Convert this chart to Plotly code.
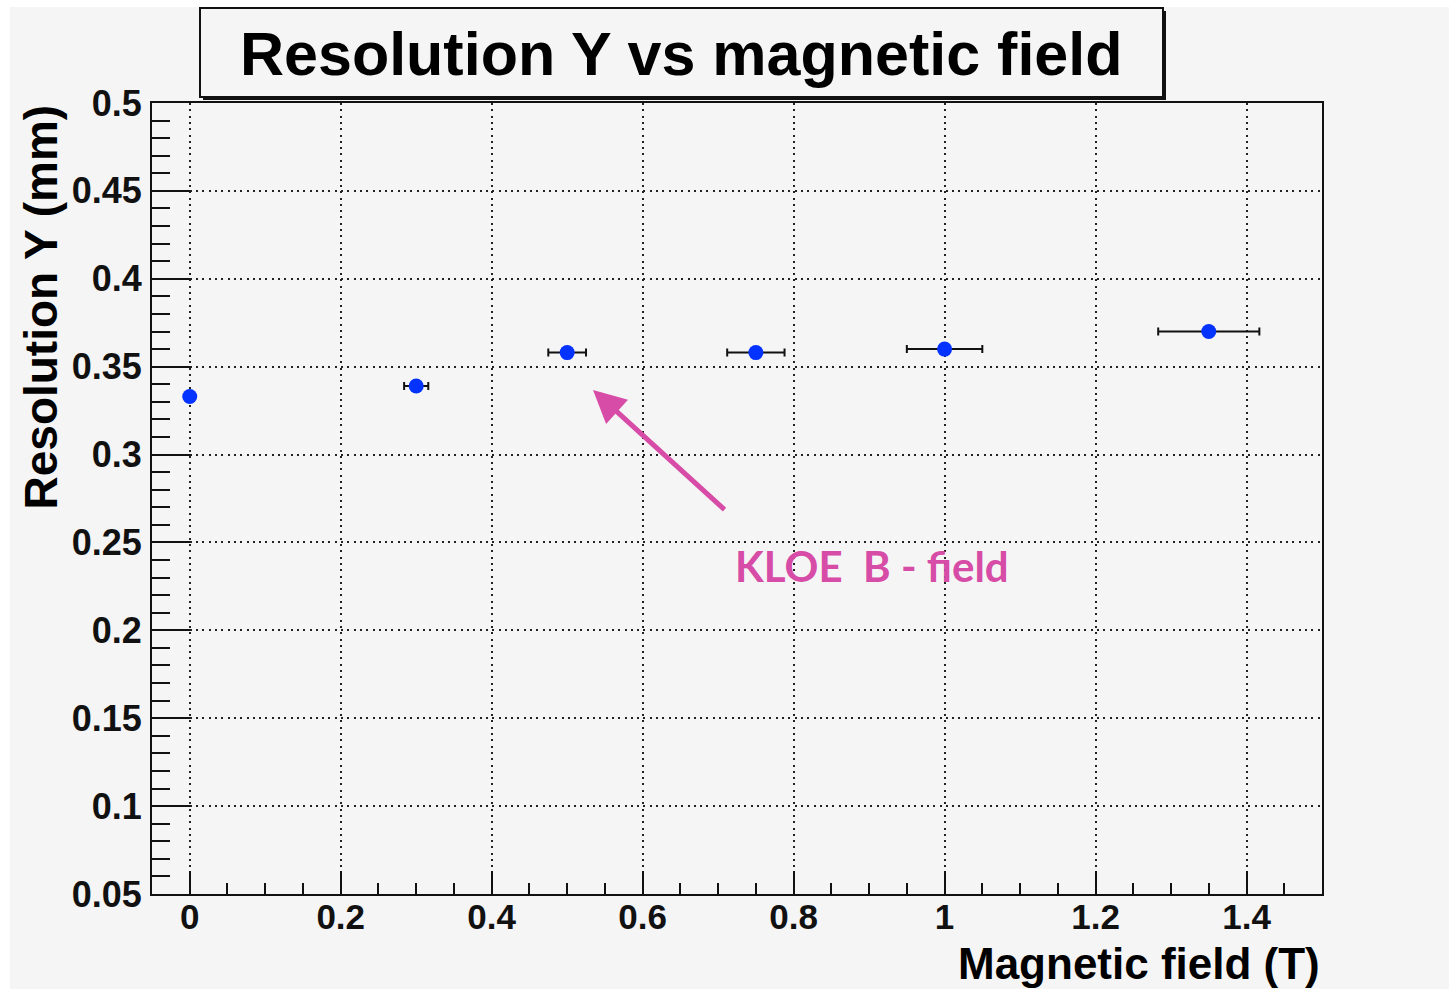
import plotly.graph_objects as go

# Data
field_T = [0.0, 0.3, 0.5, 0.75, 1.0, 1.35]
resolution_mm = [0.333, 0.339, 0.358, 0.358, 0.360, 0.370]
field_err = [0.0, 0.016, 0.025, 0.038, 0.050, 0.067]

x_ticks = [0, 0.2, 0.4, 0.6, 0.8, 1.0, 1.2, 1.4]
x_ticklabels = ["0", "0.2", "0.4", "0.6", "0.8", "1", "1.2", "1.4"]
y_ticks = [0.05, 0.1, 0.15, 0.2, 0.25, 0.3, 0.35, 0.4, 0.45, 0.5]
y_ticklabels = ["0.05", "0.1", "0.15", "0.2", "0.25", "0.3", "0.35", "0.4", "0.45", "0.5"]

W, H = 1449, 989
L, R, T, B = 152, 1322, 103, 894
PW, PH = R - L, B - T


def px(x):
    return (x - L) / PW


def py(y):
    return (B - y) / PH


BG = "#f5f5f5"
FONT = "Liberation Sans, Arial, Helvetica, sans-serif"

fig = go.Figure()
fig.add_trace(go.Scatter(
    x=field_T, y=resolution_mm, mode="markers",
    marker=dict(color="#0433ff", size=15, line=dict(width=0)),
    error_x=dict(type="data", array=field_err, visible=True,
                 color="#111111", thickness=2, width=4),
    showlegend=False,
))

axis_common = dict(
    showline=True, linecolor="#111111", linewidth=2, mirror=True,
    ticks="inside", tickcolor="#111111", tickwidth=2,
    showgrid=True, gridcolor="#222222", gridwidth=1.5, griddash="2px,4.3px",
    zeroline=False,
)

fig.update_xaxes(
    range=[-0.05, 1.5], tickvals=x_ticks, ticktext=x_ticklabels,
    ticklen=23, ticklabelstandoff=-9,
    tickfont=dict(family=FONT, size=35, color="#111111", weight="bold"),
    minor=dict(ticks="inside", ticklen=11, dtick=0.05, tick0=0,
               tickcolor="#111111", tickwidth=2, showgrid=False),
    **axis_common,
)
fig.update_yaxes(
    range=[0.05, 0.5], tickvals=y_ticks, ticktext=y_ticklabels,
    ticklen=38, ticklabelstandoff=1,
    tickfont=dict(family=FONT, size=36, color="#111111", weight="bold"),
    minor=dict(ticks="inside", ticklen=18, dtick=0.01, tick0=0,
               tickcolor="#111111", tickwidth=2, showgrid=False),
    **axis_common,
)

shapes = [
    # white outer margins
    dict(type="rect", xref="paper", yref="paper", x0=px(0), x1=px(10), y0=py(H), y1=py(0),
         fillcolor="white", line=dict(width=0), layer="below"),
    dict(type="rect", xref="paper", yref="paper", x0=px(0), x1=px(W), y0=py(7), y1=py(0),
         fillcolor="white", line=dict(width=0), layer="below"),
    # title box shadow
    dict(type="rect", xref="paper", yref="paper", x0=px(203), x1=px(1166), y0=py(100), y1=py(11),
         fillcolor="#111111", line=dict(width=0), layer="above"),
    # title box
    dict(type="rect", xref="paper", yref="paper", x0=px(200), x1=px(1163), y0=py(97), y1=py(8),
         fillcolor=BG, line=dict(color="#111111", width=2), layer="above"),
]

annotations = [
    dict(text="Resolution Y vs magnetic field", xref="paper", yref="paper",
         x=px(681), y=py(54), xanchor="center", yanchor="middle", showarrow=False,
         font=dict(family=FONT, size=61, color="#000000", weight="bold")),
    dict(text="Magnetic field (T)", xref="paper", yref="paper",
         x=1.0, y=py(963), xanchor="right", yanchor="middle", showarrow=False,
         font=dict(family=FONT, size=44, color="#000000", weight="bold")),
    dict(text="Resolution Y (mm)", xref="paper", yref="paper", textangle=-90,
         x=px(40), y=1.0, xanchor="center", yanchor="top", showarrow=False,
         font=dict(family=FONT, size=46, color="#000000", weight="bold")),
    dict(text="KLOE\u00a0 B - field", xref="paper", yref="paper",
         x=px(733), y=py(566), xanchor="left", yanchor="middle", showarrow=False,
         font=dict(family="Lato, Open Sans, sans-serif", size=42, color="#d64ca6", weight="bold")),
    dict(text="", xref="paper", yref="paper", x=px(593), y=py(390),
         ax=133, ay=121, axref="pixel", ayref="pixel",
         showarrow=True, arrowhead=2, arrowsize=1.3, arrowwidth=5, arrowcolor="#d64ca6"),
]

fig.update_layout(
    width=W, height=H,
    margin=dict(l=L, r=W - R, t=T, b=H - B, pad=0),
    paper_bgcolor=BG, plot_bgcolor=BG,
    shapes=shapes, annotations=annotations,
    showlegend=False,
)

fig.write_html("out.html")
